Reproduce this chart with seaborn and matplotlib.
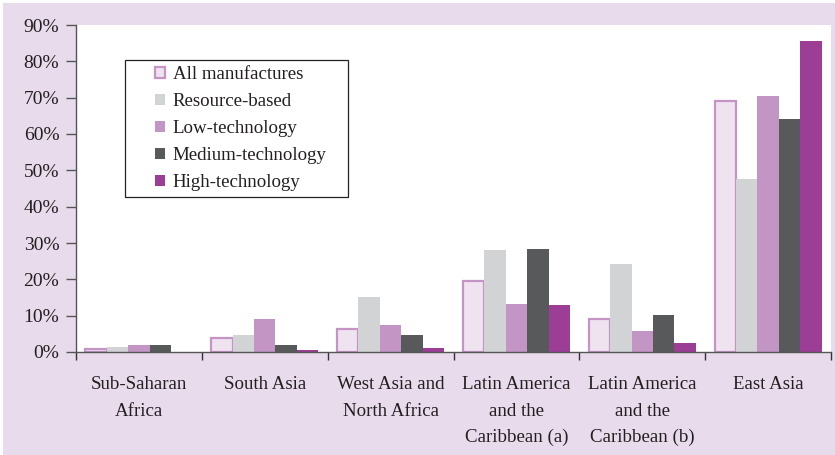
import matplotlib
matplotlib.use("Agg")
import matplotlib.pyplot as plt
from matplotlib.patches import Patch, Rectangle
import seaborn as sns
import pandas as pd

regions = [
    "Sub-Saharan\nAfrica",
    "South Asia",
    "West Asia and\nNorth Africa",
    "Latin America\nand the\nCaribbean (a)",
    "Latin America\nand the\nCaribbean (b)",
    "East Asia",
]
series = ["All manufactures", "Resource-based", "Low-technology",
          "Medium-technology", "High-technology"]

all_manufactures = [0.9, 3.8, 6.2, 19.5, 9.0, 69.2]
resource_based = [1.3, 4.7, 15.1, 28.1, 24.2, 47.6]
low_technology = [2.0, 9.0, 7.5, 13.1, 5.8, 70.5]
medium_technology = [1.9, 1.9, 4.7, 28.4, 10.2, 64.1]
high_technology = [0.1, 0.6, 1.1, 12.9, 2.5, 85.6]

y_ticks = [0, 10, 20, 30, 40, 50, 60, 70, 80, 90]
y_tick_labels = [f"{v}%" for v in y_ticks]

fills = ["#efe3f0", "#d2d3d5", "#c395c4", "#58595b", "#9c3d96"]
outline = "#c394c4"
bg = "#e8dbec"
ink = "#231f20"

values = [all_manufactures, resource_based, low_technology,
          medium_technology, high_technology]
rows = []
for name, vals in zip(series, values):
    for reg, v in zip(regions, vals):
        rows.append({"region": reg, "type": name, "share": v})
df = pd.DataFrame(rows)

plt.rcParams["font.family"] = ["Liberation Serif", "DejaVu Serif"]

W, H = 835, 455
fig = plt.figure(figsize=(W / 100, H / 100), dpi=100, facecolor="white")
fig.patches.append(Rectangle((3 / W, 0), 1 - 3 / W, 1 - 3 / H,
                             transform=fig.transFigure, facecolor=bg,
                             edgecolor="none", zorder=-10))
ax = fig.add_axes([76 / W, 1 - 352 / H, (831 - 76) / W, (352 - 25) / H])
ax.set_facecolor("white")

sns.barplot(data=df, x="region", y="share", hue="type", order=regions,
            hue_order=series, palette=fills, saturation=1, width=0.85,
            linewidth=0, legend=False, ax=ax)

# outline the first series
for bar in ax.containers[0]:
    bar.set_edgecolor(outline)
    bar.set_linewidth(1.6)

ax.set_ylim(0, 90)
ax.set_xlim(-0.5, 5.5)
ax.set_yticks(y_ticks)
ax.set_yticklabels(y_tick_labels, fontsize=14, color=ink)
ax.tick_params(axis="y", direction="out", length=7, width=1, color="#555555", pad=5)

ax.set_xticks(range(len(regions)))
ax.set_xticklabels(regions, fontsize=13.6, color=ink, linespacing=1.72)
ax.tick_params(axis="x", which="major", length=0, pad=17.4)
ax.set_xticks([i - 0.5 for i in range(len(regions) + 1)], minor=True)
ax.tick_params(axis="x", which="minor", direction="out", length=6, width=1,
               color="#333333")

for side in ["top", "right"]:
    ax.spines[side].set_visible(False)
for side in ["left", "bottom"]:
    ax.spines[side].set_color("#555555")
    ax.spines[side].set_linewidth(1)
ax.set_xlabel("")
ax.set_ylabel("")

handles = []
for i, (name, col) in enumerate(zip(series, fills)):
    if i == 0:
        handles.append(Patch(facecolor=col, edgecolor=outline, linewidth=1.6, label=name))
    else:
        handles.append(Patch(facecolor=col, edgecolor="none", label=name))
leg = fig.legend(handles=handles, loc="upper left",
                 bbox_to_anchor=(155 / W, 1 - 66 / H),
                 fontsize=13.6, frameon=False,
                 handlelength=0.53, handleheight=0.53,
                 handletextpad=0.4, labelspacing=0.53, borderpad=0,
                 borderaxespad=0)
for t in leg.get_texts():
    t.set_color(ink)

# legend box
fig.patches.append(Rectangle((125 / W, 1 - 197 / H), 223 / W, 137 / H,
                             transform=fig.transFigure, facecolor="white",
                             edgecolor="#222222", linewidth=0.9, zorder=5))
leg.set_zorder(6)

fig.savefig("out.png", dpi=100, facecolor=fig.get_facecolor())
